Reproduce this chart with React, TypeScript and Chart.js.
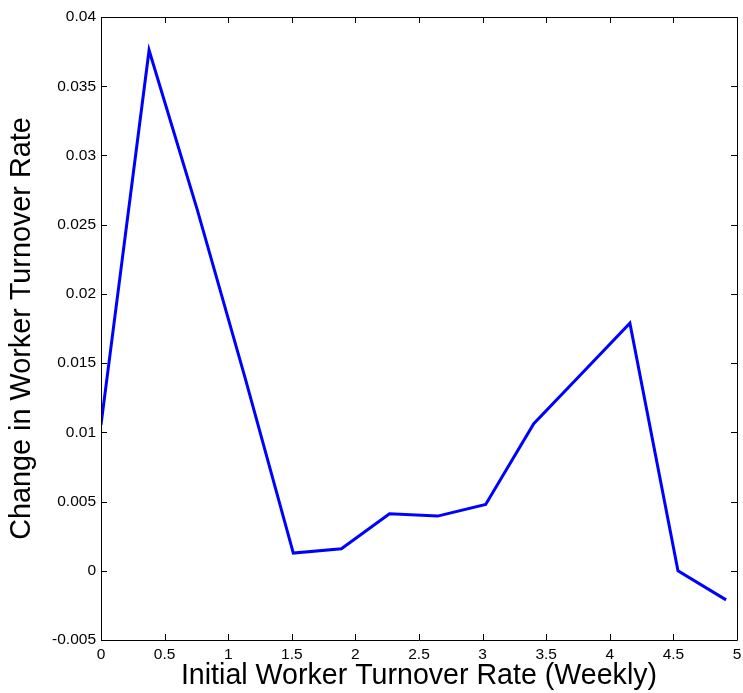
import React, { useEffect, useRef } from "react";
import { Chart, registerables } from "chart.js";

Chart.register(...registerables);

const xValues = [0, 0.378, 0.756, 1.134, 1.512, 1.89, 2.268, 2.646, 3.024, 3.402, 3.78, 4.158, 4.536, 4.914];
const yValues = [0.01055, 0.0376, 0.0261, 0.0139, 0.00128, 0.00159, 0.00412, 0.00395, 0.00479, 0.01062, 0.01425, 0.01789, 0.0, -0.0021];
const xTickLabels = ["0", "0.5", "1", "1.5", "2", "2.5", "3", "3.5", "4", "4.5", "5"];
const yTickLabels = ["-0.005", "0", "0.005", "0.01", "0.015", "0.02", "0.025", "0.03", "0.035", "0.04"];
const xTitle = "Initial Worker Turnover Rate (Weekly)";
const yTitle = "Change in Worker Turnover Rate";

const FONT = '"Liberation Sans", Arial, Helvetica, sans-serif';

const boxPlugin = {
  id: "matlabBox",
  afterDraw(chart: any) {
    const { ctx, chartArea } = chart;
    const { left, right, top, bottom } = chartArea;
    const xs = chart.scales.x;
    const ys = chart.scales.y;
    const tl = 6;
    ctx.save();
    ctx.strokeStyle = "#000";
    ctx.lineWidth = 1;
    ctx.beginPath();
    xs.ticks.forEach((t: any) => {
      const px = Math.round(xs.getPixelForValue(t.value)) + 0.5;
      ctx.moveTo(px, bottom);
      ctx.lineTo(px, bottom - tl);
      ctx.moveTo(px, top);
      ctx.lineTo(px, top + tl);
    });
    ys.ticks.forEach((t: any) => {
      const py = Math.round(ys.getPixelForValue(t.value)) + 0.5;
      ctx.moveTo(left, py);
      ctx.lineTo(left + tl, py);
      ctx.moveTo(right, py);
      ctx.lineTo(right - tl, py);
    });
    ctx.stroke();
    ctx.beginPath();
    ctx.rect(Math.round(left) + 0.5, Math.round(top) + 0.5, Math.round(right - left), Math.round(bottom - top));
    ctx.stroke();
    ctx.restore();
  },
};

export default function App() {
  const ref = useRef<HTMLCanvasElement | null>(null);
  useEffect(() => {
    if (!ref.current) return;
    const data = xValues.map((x, i) => ({ x, y: yValues[i] }));
    const chart = new Chart(ref.current, {
      type: "line",
      data: {
        datasets: [
          {
            data,
            borderColor: "#0000ff",
            borderWidth: 3,
            pointRadius: 0,
            fill: false,
            tension: 0,
          },
        ],
      },
      options: {
        animation: false,
        responsive: true,
        maintainAspectRatio: false,
        layout: { padding: { left: 0, top: 17, right: 6, bottom: 0 } },
        plugins: { legend: { display: false }, tooltip: { enabled: false } },
        scales: {
          x: {
            type: "linear",
            min: 0,
            max: 5,
            grid: { display: false, drawTicks: false },
            border: { display: false },
            ticks: {
              stepSize: 0.5,
              color: "#000",
              font: { family: FONT, size: 15.5 },
              padding: 5,
              maxRotation: 0,
              autoSkip: false,
              callback: (_v: any, i: number) => xTickLabels[i],
            },
            title: {
              display: true,
              text: xTitle,
              color: "#000",
              font: { family: FONT, size: 28.6, lineHeight: 1 },
              padding: { top: 0, bottom: 3 },
            },
            afterFit: (s: any) => {
              s.height = 53;
              s.paddingLeft = 0;
              s.paddingRight = 0;
            },
          },
          y: {
            type: "linear",
            min: -0.005,
            max: 0.04,
            grid: { display: false, drawTicks: false },
            border: { display: false },
            ticks: {
              stepSize: 0.005,
              color: "#000",
              font: { family: FONT, size: 15.5 },
              padding: 5,
              autoSkip: false,
              callback: (_v: any, i: number) => yTickLabels[i],
            },
            title: {
              display: true,
              text: yTitle,
              color: "#000",
              font: { family: FONT, size: 28.8, lineHeight: 1 },
              padding: { top: 8, bottom: 0 },
            },
            afterFit: (s: any) => {
              s.width = 101;
              s.paddingTop = 0;
              s.paddingBottom = 0;
            },
          },
        },
      },
      plugins: [boxPlugin],
    });
    return () => chart.destroy();
  }, []);
  return (
    <div style={{ position: "fixed", left: 0, top: 0, width: 743, height: 693, background: "#fff" }}>
      <canvas ref={ref} />
    </div>
  );
}
